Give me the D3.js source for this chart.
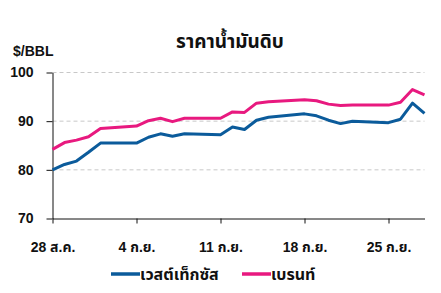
<!DOCTYPE html>
<html>
<head>
<meta charset="utf-8">
<script src="https://cdn.jsdelivr.net/npm/d3@7"></script>
<style>
  body{margin:0;background:#fff;}
  text{font-family:"Liberation Sans",Arial,"Noto Sans Thai",sans-serif;font-weight:bold;fill:#111;}
</style>
</head>
<body>
<svg id="chart" width="441" height="293"></svg>
<script>
// trading days (weekends left out, line joins straight across them)
var dates=["2023-08-28","2023-08-29","2023-08-30","2023-08-31","2023-09-01",
	"2023-09-04","2023-09-05","2023-09-06","2023-09-07","2023-09-08",
	"2023-09-11","2023-09-12","2023-09-13","2023-09-14","2023-09-15",
	"2023-09-18","2023-09-19","2023-09-20","2023-09-21","2023-09-22",
	"2023-09-25","2023-09-26","2023-09-27","2023-09-28"];
var wti=[80.0,81.1,81.8,83.6,85.5,85.5,86.7,87.4,86.9,87.4,87.2,88.8,88.3,90.2,90.8,91.5,91.1,90.2,89.5,90.0,89.7,90.4,93.7,91.6];
var brent=[84.2,85.6,86.1,86.8,88.5,89.0,90.1,90.6,89.9,90.6,90.6,91.9,91.8,93.7,94.0,94.4,94.2,93.5,93.2,93.3,93.3,93.9,96.5,95.4];
var yTicks=[70,80,90,100];
var xTickDates=["2023-08-28","2023-09-04","2023-09-11","2023-09-18","2023-09-25"];
var xTickLabels=["28 ส.ค.","4 ก.ย.","11 ก.ย.","18 ก.ย.","25 ก.ย."];
var seriesNames=["เวสต์เท็กซัส","เบรนท์"];
var colors=["#0b5b9b","#e8197f"];

var parse=d3.timeParse("%Y-%m-%d");
var svg=d3.select("#chart");
var plotL=52.5,plotR=424.5,plotT=72.5,plotB=218.5;

var x=d3.scaleTime()
	.domain([parse("2023-08-28"),parse("2023-09-28")])
	.range([plotL,plotR]);
var y=d3.scaleLinear().domain([70,100]).range([plotB,plotT]);

//grid
svg.append("g").selectAll("line")
	.data(yTicks.filter(function(d){return d>70;}))
	.enter().append("line")
	.attr("x1",plotL).attr("x2",plotR)
	.attr("y1",function(d){return y(d);}).attr("y2",function(d){return y(d);})
	.attr("stroke","#c8c8c8").attr("stroke-width",1).attr("stroke-dasharray","4,3");

//y axis
var yAxis=svg.append("g")
	.attr("transform","translate("+plotL+",0)")
	.call(d3.axisLeft(y).tickValues(yTicks).tickSizeInner(6).tickSizeOuter(0).tickPadding(13));
yAxis.select(".domain").attr("stroke","#111");
yAxis.selectAll(".tick line").attr("stroke","#111");
yAxis.selectAll("text").style("font-size","14px").attr("fill","#111");

//x axis
var xAxis=svg.append("g")
	.attr("transform","translate(0,"+plotB+")")
	.call(d3.axisBottom(x)
		.tickValues(xTickDates.map(parse))
		.tickFormat(function(d,i){return xTickLabels[i];})
		.tickSizeInner(5).tickSizeOuter(0).tickPadding(19));
xAxis.select(".domain").attr("stroke","#111");
xAxis.selectAll(".tick line").attr("stroke","#111");
xAxis.selectAll("text").style("font-size","14px").attr("fill","#111");

//lines
var line=d3.line()
	.x(function(d){return x(d.date);})
	.y(function(d){return y(d.v);});
[wti,brent].forEach(function(vals,k){
	var pts=vals.map(function(v,i){return {date:parse(dates[i]),v:v};});
	svg.append("path")
		.datum(pts)
		.attr("fill","none")
		.attr("stroke",colors[k])
		.attr("stroke-width",3)
		.attr("stroke-linejoin","round")
		.attr("d",line);
});

//title
svg.append("text").attr("x",230).attr("y",48).attr("text-anchor","middle")
	.style("font-size","19px").text("ราคาน้ำมันดิบ");
svg.append("text").attr("x",13).attr("y",56).style("font-size","14px").text("$/BBL");

//legend
var legX=[111,242];
seriesNames.forEach(function(name,k){
	var g=svg.append("g").attr("transform","translate("+legX[k]+",274)");
	g.append("line").attr("x1",0).attr("x2",29).attr("y1",0).attr("y2",0)
		.attr("stroke",colors[k]).attr("stroke-width",3.5);
	g.append("text").attr("x",29).attr("y",6).style("font-size","16px").text(name);
});
</script>
</body>
</html>
